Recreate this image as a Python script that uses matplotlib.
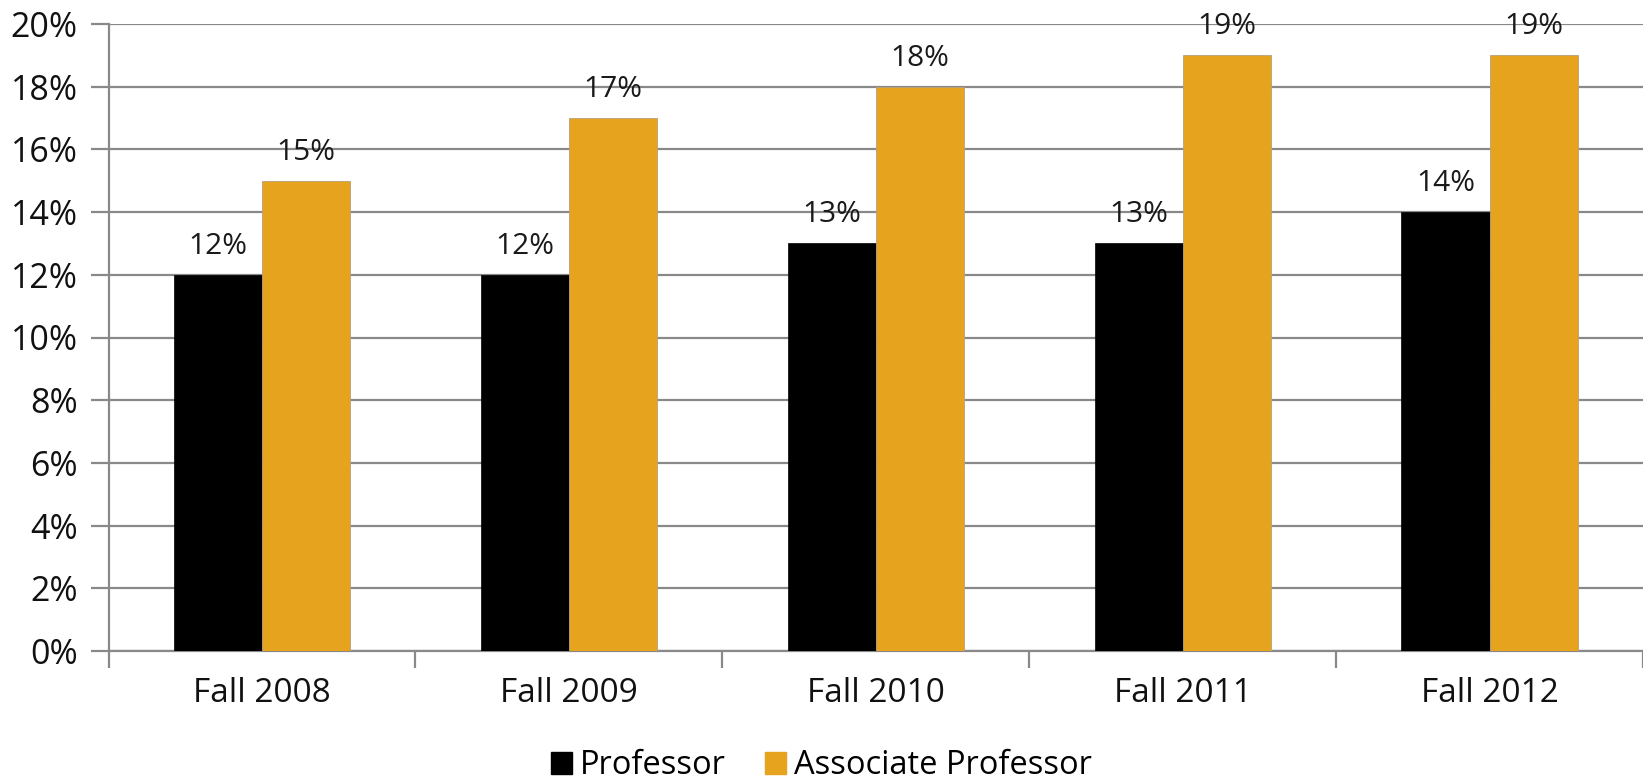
import matplotlib
matplotlib.use("Agg")
import matplotlib.pyplot as plt
import numpy as np
from matplotlib.patches import Patch

categories = ["Fall 2008", "Fall 2009", "Fall 2010", "Fall 2011", "Fall 2012"]
professor = [12, 12, 13, 13, 14]
associate = [15, 17, 18, 19, 19]
series_names = ["Professor", "Associate Professor"]
yticks = [0, 2, 4, 6, 8, 10, 12, 14, 16, 18, 20]

plt.rcParams['font.family'] = ['Open Sans', 'DejaVu Sans']

W, H = 1643, 781
fig = plt.figure(figsize=(W / 100, H / 100), dpi=100)
left = 108.5 / W
right = 1.0
bottom = 1 - 651 / H
top = 1 - 24 / H
ax = fig.add_axes([left, bottom, right - left, top - bottom])

x = np.arange(len(categories))
bw = 0.287
grid_c = "#898989"
black_c = "#000000"
gold_c = "#E5A31E"

ax.bar(x - bw / 2, professor, bw, color=black_c, edgecolor=black_c, linewidth=0.5, zorder=3)
ax.bar(x + bw / 2, associate, bw, color=gold_c, edgecolor="#B8A07A", linewidth=0.6, zorder=3)

for xi, v in zip(x, professor):
    ax.text(xi - bw / 2, v + 0.45, f"{v}%", ha="center", va="bottom", fontsize=21.5, color="#1a1a1a")
for xi, v in zip(x, associate):
    ax.text(xi + bw / 2, v + 0.45, f"{v}%", ha="center", va="bottom", fontsize=21.5, color="#1a1a1a")

ax.set_xlim(-0.5, 4.5)
ax.set_ylim(0, 20)
ax.set_yticks(yticks)
ax.set_yticklabels([f"{t}%" for t in yticks], fontsize=24.5, color="#111111")
ax.yaxis.grid(True, color=grid_c, linewidth=1.6, zorder=0)
ax.set_axisbelow(True)

ax.set_xticks(x)
ax.set_xticklabels(categories, fontsize=24, color="#111111")
ax.tick_params(axis="x", which="major", length=0, pad=19)
ax.set_xticks(np.arange(-0.5, 4.6, 1.0), minor=True)
ax.tick_params(axis="x", which="minor", length=12, width=1.6, color=grid_c)
ax.tick_params(axis="y", length=13, width=1.6, color=grid_c, pad=9)

for s in ["top", "right"]:
    ax.spines[s].set_visible(False)
ax.spines["left"].set_color(grid_c)
ax.spines["left"].set_linewidth(1.6)
ax.spines["bottom"].set_color(grid_c)
ax.spines["bottom"].set_linewidth(1.6)

handles = [Patch(facecolor=black_c, edgecolor=black_c), Patch(facecolor=gold_c, edgecolor=gold_c)]
fig.legend(handles, series_names, loc="center", bbox_to_anchor=(0.5, 1 - 766 / H),
           ncol=2, frameon=False, fontsize=23.5, handlelength=0.65, handleheight=0.65,
           handletextpad=0.25, columnspacing=1.2, borderpad=0.0)

fig.savefig("out.png", dpi=100)
